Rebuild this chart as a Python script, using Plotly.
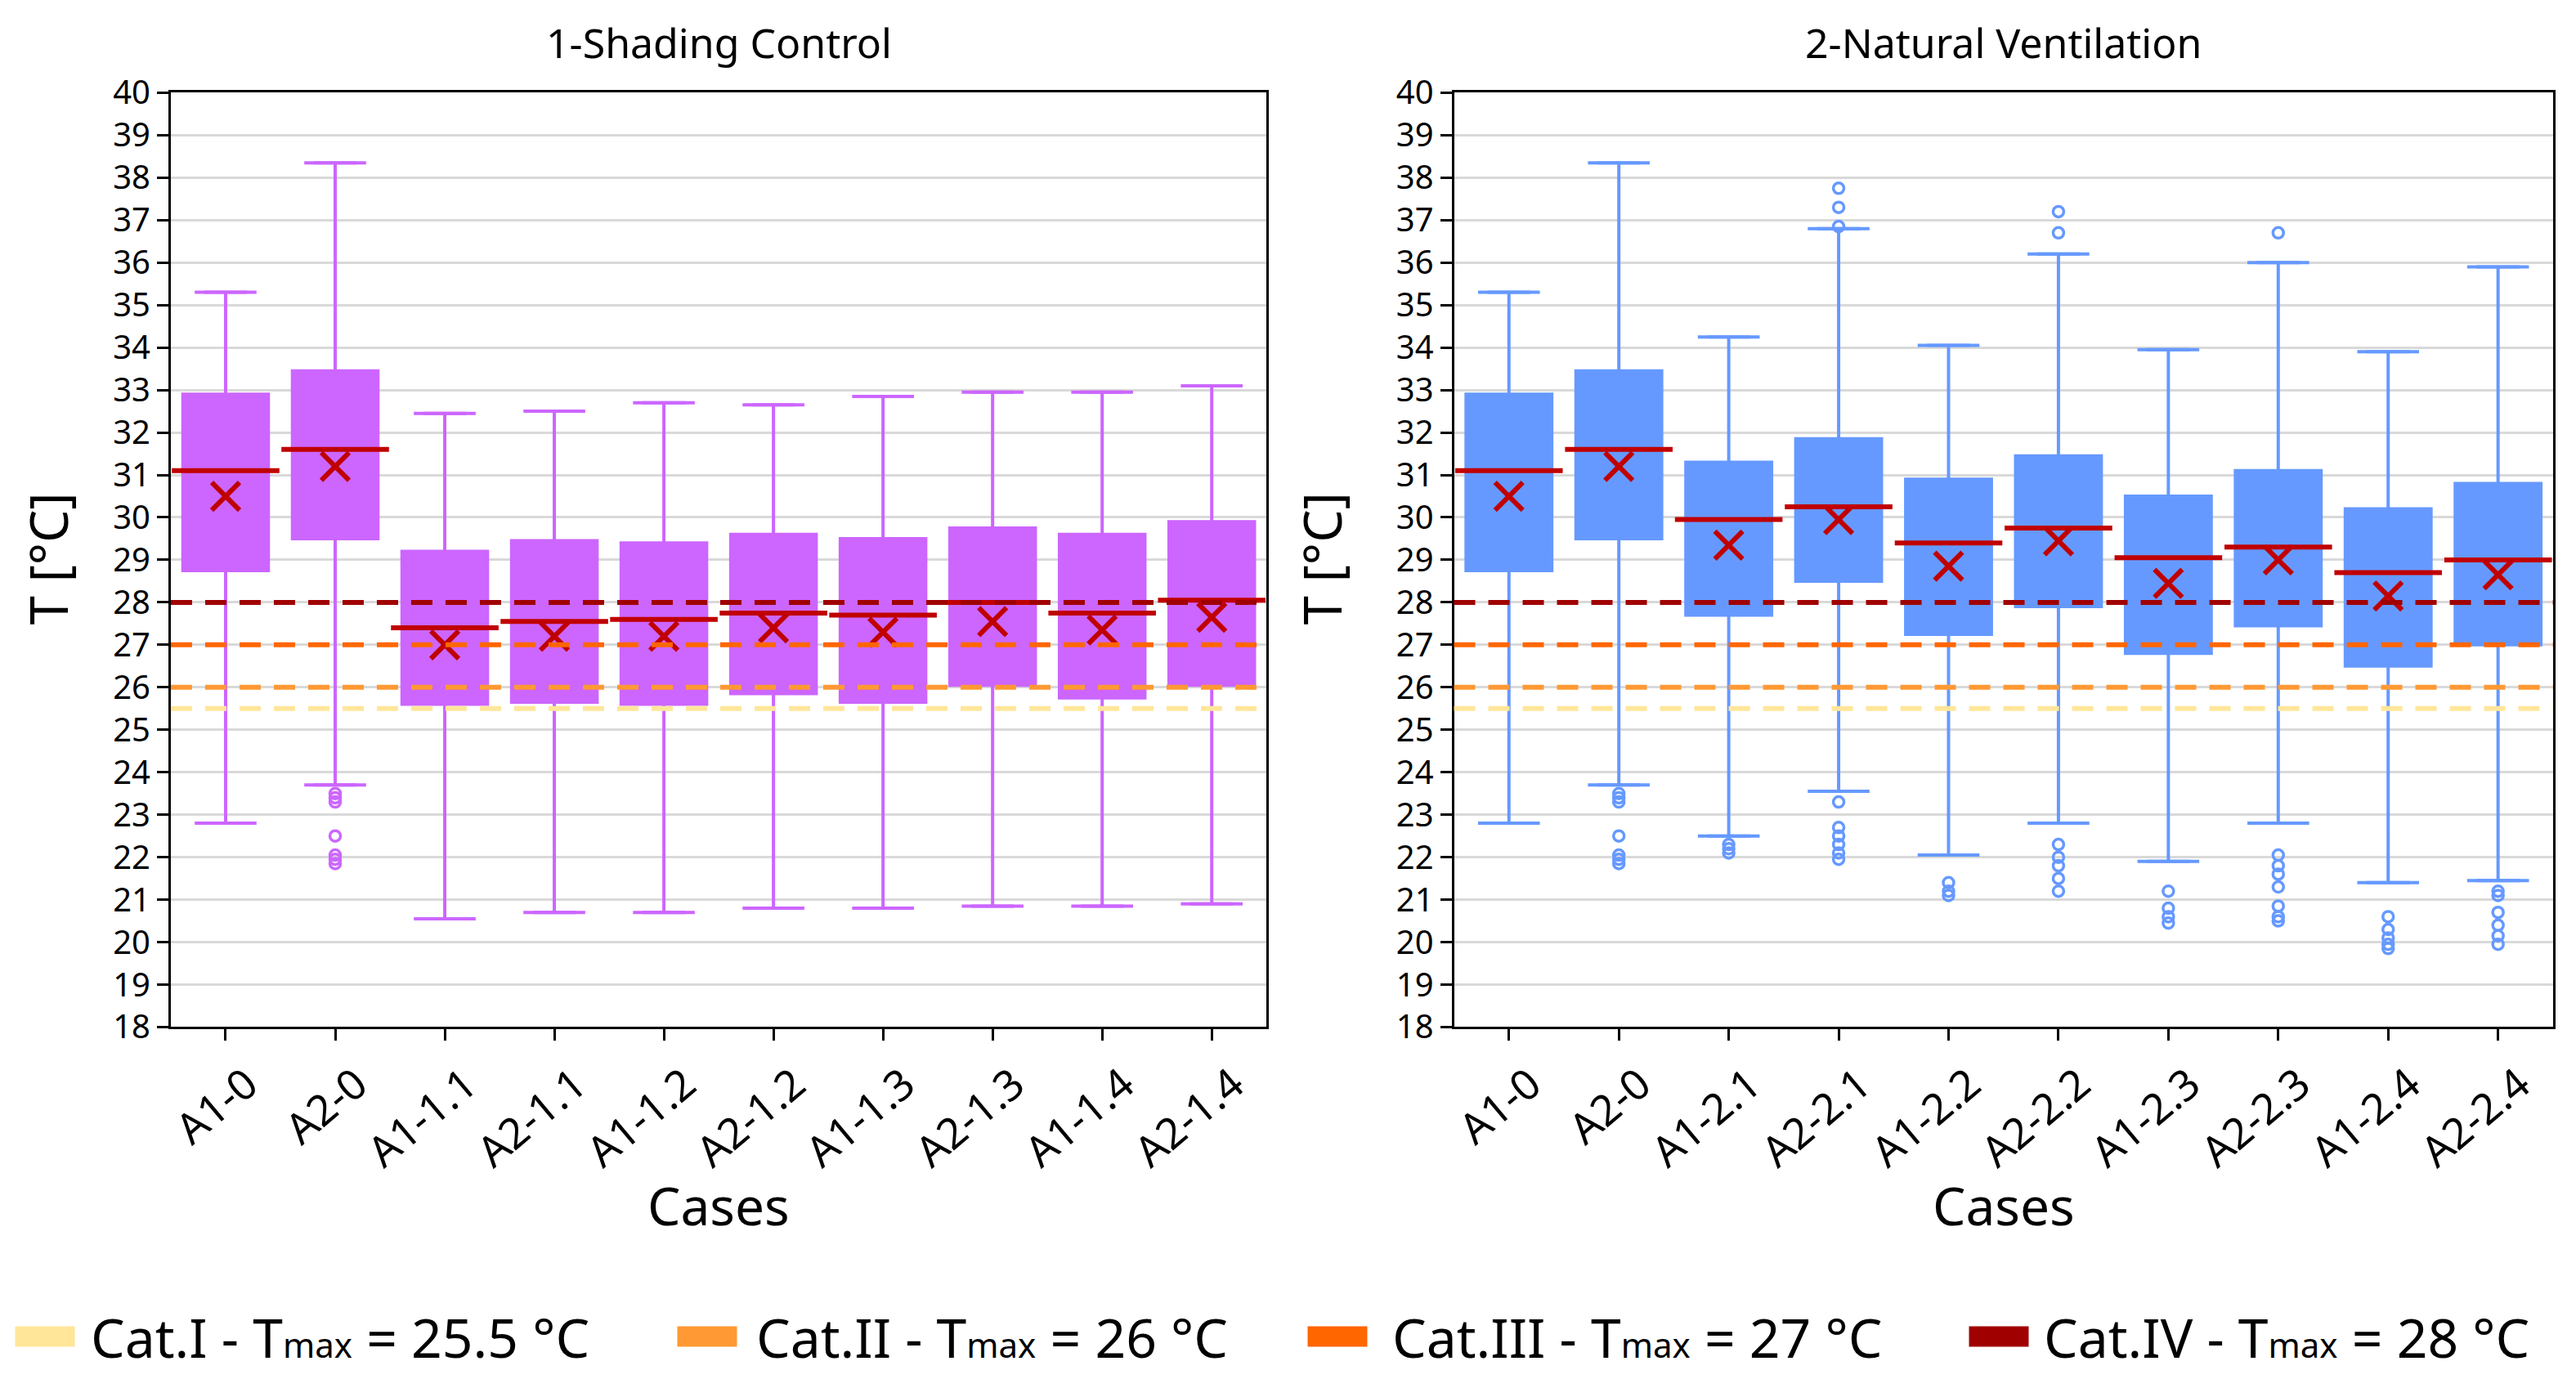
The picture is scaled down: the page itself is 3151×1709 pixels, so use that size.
import plotly.graph_objects as go

# ---- data (°C) ----
cases_sc = ["A1-0", "A2-0", "A1-1.1", "A2-1.1", "A1-1.2", "A2-1.2", "A1-1.3", "A2-1.3", "A1-1.4", "A2-1.4"]
sc_low = [22.8, 23.7, 20.55, 20.7, 20.7, 20.8, 20.8, 20.85, 20.85, 20.9]
sc_q1 = [28.75, 29.5, 25.6, 25.65, 25.6, 25.85, 25.65, 26.05, 25.75, 26.05]
sc_median = [31.1, 31.6, 27.4, 27.55, 27.6, 27.75, 27.7, 28.0, 27.75, 28.05]
sc_q3 = [32.9, 33.45, 29.2, 29.45, 29.4, 29.6, 29.5, 29.75, 29.6, 29.9]
sc_high = [35.3, 38.35, 32.45, 32.5, 32.7, 32.65, 32.85, 32.95, 32.95, 33.1]
sc_mean = [30.5, 31.2, 27.0, 27.2, 27.2, 27.4, 27.3, 27.55, 27.35, 27.65]
sc_outliers = [[], [23.5, 23.4, 23.3, 22.5, 22.05, 21.95, 21.85], [], [], [], [], [], [], [], []]

cases_nv = ["A1-0", "A2-0", "A1-2.1", "A2-2.1", "A1-2.2", "A2-2.2", "A1-2.3", "A2-2.3", "A1-2.4", "A2-2.4"]
nv_low = [22.8, 23.7, 22.5, 23.55, 22.05, 22.8, 21.9, 22.8, 21.4, 21.45]
nv_q1 = [28.75, 29.5, 27.7, 28.5, 27.25, 27.9, 26.8, 27.45, 26.5, 27.0]
nv_median = [31.1, 31.6, 29.95, 30.25, 29.4, 29.75, 29.05, 29.3, 28.7, 29.0]
nv_q3 = [32.9, 33.45, 31.3, 31.85, 30.9, 31.45, 30.5, 31.1, 30.2, 30.8]
nv_high = [35.3, 38.35, 34.25, 36.8, 34.05, 36.2, 33.95, 36.0, 33.9, 35.9]
nv_mean = [30.5, 31.2, 29.35, 29.95, 28.85, 29.45, 28.45, 29.0, 28.15, 28.65]
nv_outliers = [
    [],
    [23.5, 23.4, 23.3, 22.5, 22.05, 21.95, 21.85],
    [22.3, 22.2, 22.1],
    [37.75, 37.3, 36.85, 23.3, 22.7, 22.5, 22.3, 22.1, 21.95],
    [21.4, 21.2, 21.1],
    [37.2, 36.7, 22.3, 22.0, 21.8, 21.5, 21.2],
    [21.2, 20.8, 20.6, 20.45],
    [36.7, 22.05, 21.8, 21.6, 21.3, 20.85, 20.6, 20.5],
    [20.6, 20.3, 20.1, 19.95, 19.85],
    [21.2, 21.1, 20.7, 20.4, 20.15, 19.95],
]

# comfort categories
cat_names = ["Cat.I", "Cat.II", "Cat.III", "Cat.IV"]
cat_tmax = [25.5, 26, 27, 28]
cat_colors = ["#FFE699", "#FF9933", "#FF6600", "#A00000"]

PURPLE = "#CC66FF"
BLUE = "#6699FF"
RED = "#C00000"
FONT = "Noto Sans"


def add_panel(fig, cases, low, q1, med, q3, high, mean, outl, color, xa, ya):
    fig.add_trace(go.Box(
        x=cases, q1=q1, median=med, q3=q3, lowerfence=low, upperfence=high,
        fillcolor=color, line=dict(color=color, width=4), width=0.78,
        boxpoints=False, xaxis=xa, yaxis=ya, showlegend=False, hoverinfo="skip"))
    # whisker caps
    fig.add_trace(go.Scatter(
        x=cases + cases, y=low + high, mode="markers",
        marker=dict(symbol="line-ew", size=54, line=dict(color=color, width=4)),
        xaxis=xa, yaxis=ya, showlegend=False, hoverinfo="skip"))
    # outliers
    ox = [c for c, vals in zip(cases, outl) for v in vals]
    oy = [v for vals in outl for v in vals]
    fig.add_trace(go.Scatter(
        x=ox, y=oy, mode="markers",
        marker=dict(symbol="circle-open", size=13, color=color, line=dict(color=color, width=3.5)),
        xaxis=xa, yaxis=ya, showlegend=False, hoverinfo="skip"))
    # median line
    fig.add_trace(go.Scatter(
        x=cases, y=med, mode="markers",
        marker=dict(symbol="line-ew", size=94, line=dict(color=RED, width=6)),
        xaxis=xa, yaxis=ya, showlegend=False, hoverinfo="skip"))
    # mean cross
    fig.add_trace(go.Scatter(
        x=cases, y=mean, mode="markers",
        marker=dict(symbol="x-thin", size=34, line=dict(color=RED, width=6)),
        xaxis=xa, yaxis=ya, showlegend=False, hoverinfo="skip"))


fig = go.Figure()
add_panel(fig, cases_sc, sc_low, sc_q1, sc_median, sc_q3, sc_high, sc_mean, sc_outliers, PURPLE, "x", "y")
add_panel(fig, cases_nv, nv_low, nv_q1, nv_median, nv_q3, nv_high, nv_mean, nv_outliers, BLUE, "x2", "y2")

# threshold lines in both panels
for xr, yr in [("x domain", "y"), ("x2 domain", "y2")]:
    for t, c in zip(cat_tmax, cat_colors):
        fig.add_shape(type="line", xref=xr, yref=yr, x0=0, x1=1, y0=t, y1=t,
                      line=dict(color=c, width=6, dash="26px,16px"))

yax = dict(range=[18, 40], tick0=18, dtick=1, showgrid=True, gridcolor="#D9D9D9", gridwidth=3,
           showline=True, linecolor="black", linewidth=3, mirror=True, zeroline=False,
           ticks="outside", ticklen=14, tickwidth=3, tickcolor="black",
           tickfont=dict(size=40, family=FONT, color="black"))
xax = dict(type="category", range=[-0.5, 9.5], showgrid=False, showline=True, linecolor="black",
           linewidth=3, mirror=True, ticks="outside", ticklen=14, tickwidth=3, tickcolor="black",
           tickangle=-40, ticklabelshift=26, ticklabelstandoff=2,
           tickfont=dict(size=52, family=FONT, color="black"))

left_dom = [0.0608, 0.4875]
right_dom = [0.5605, 0.9885]
y_dom = [0.2627, 0.9538]

fig.update_layout(
    width=3151, height=1709,
    margin=dict(l=0, r=0, t=0, b=0),
    paper_bgcolor="white", plot_bgcolor="white",
    font=dict(family=FONT, color="black"),
    showlegend=False,
    xaxis=dict(domain=left_dom, anchor="y", **xax),
    yaxis=dict(domain=y_dom, anchor="x", **yax),
    xaxis2=dict(domain=right_dom, anchor="y2", **xax),
    yaxis2=dict(domain=y_dom, anchor="x2", **yax),
)

# titles
for dom, title in [(left_dom, "1-Shading Control"), (right_dom, "2-Natural Ventilation")]:
    cx = (dom[0] + dom[1]) / 2
    fig.add_annotation(text=title, x=cx, y=0.991, xref="paper", yref="paper",
                       xanchor="center", yanchor="middle", showarrow=False, font=dict(size=50))
    fig.add_annotation(text="Cases", x=cx, y=0.1308, xref="paper", yref="paper",
                       xanchor="center", yanchor="middle", showarrow=False, font=dict(size=64))
for xpos in [0.013, 0.509]:
    fig.add_annotation(text="T [°C]", x=xpos, y=0.609, xref="paper", yref="paper",
                       textangle=-90, xanchor="center", yanchor="middle",
                       showarrow=False, font=dict(size=64))

# legend drawn as a row of colour swatches and texts
swatch_x = [0.0, 0.2579, 0.5035, 0.7608]
text_x = [0.0289, 0.2881, 0.5357, 0.7897]
for sx, tx, name, t, c in zip(swatch_x, text_x, cat_names, cat_tmax, cat_colors):
    fig.add_annotation(text=" ", x=sx, y=0.0339, xref="paper", yref="paper",
                       xanchor="left", yanchor="middle", showarrow=False,
                       width=72, height=24, bgcolor=c, borderpad=0, font=dict(size=10))
    fig.add_annotation(text=f"{name} - T<span style='font-size:42px'>max</span> = {t:g} °C",
                       x=tx, y=0.0339, xref="paper", yref="paper",
                       xanchor="left", yanchor="middle", showarrow=False,
                       font=dict(size=66))

fig.write_html("out.html")
